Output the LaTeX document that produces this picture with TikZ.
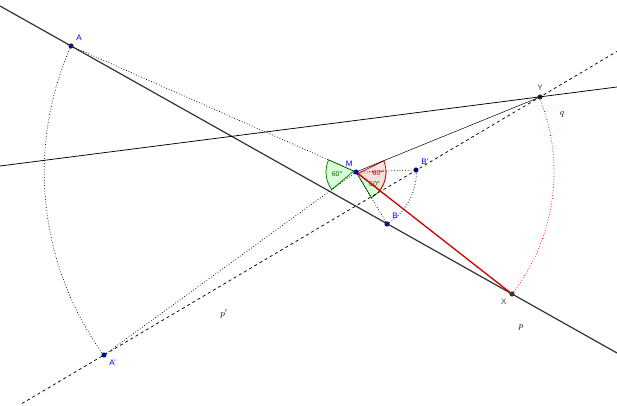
\documentclass[tikz,border=0pt]{standalone}
\usepackage{fontspec}
\setsansfont{Liberation Sans}
\begin{document}
\tikzset{every picture/.style={line width=0.75pt}}
\tikzset{pt/.style={circle,fill=blue,draw=black,line width=0.4pt,inner sep=1.6pt},
  blk/.style={circle,fill=darkgray,draw=black,line width=0.4pt,inner sep=1.6pt},
  lbl/.style={font=\sffamily\footnotesize,text=blue},
  ang/.style={font=\sffamily\scriptsize,inner sep=0pt}}
\begin{tikzpicture}[x=1pt,y=1pt]
\useasboundingbox (0,0) rectangle (617,405);

% points
\node[pt,label={[lbl]above right:A}] (A) at (71,359) {};
\node[pt,label={[lbl,xshift=2pt]above left:M}] (M) at (356,233) {};
\node[pt,label={[lbl]above right:B'}] (Bp) at (416,235) {};
\node[pt,label={[lbl]above right:B}] (B) at (387,181) {};
\node[blk,label={[lbl,text=darkgray]above:Y}] (Y) at (540,308) {};
\node[blk,label={[lbl,text=darkgray]below left:X}] (X) at (512,111) {};
\node[pt,label={[lbl]below right:A'}] (Ap) at (104,50) {};
\coordinate (p1) at (0,399);
\coordinate (p2) at (617,52);
\coordinate (r1) at (22,1.5);
\coordinate (r2) at (617,353.6);
\coordinate (q1) at (0,239);
\coordinate (q2) at (617,318);

% angle sectors
\filldraw[green!50!black,fill=green!15] (M) -- ([shift={(M)}]156.1:30) arc (156.1:216:30) -- cycle;
\filldraw[green!50!black,fill=green!15] (M) -- ([shift={(M)}]-59:30) arc (-59:1.9:30) -- cycle;
\filldraw[red!80!black,fill=red!15,fill opacity=0.8] (M) -- ([shift={(M)}]-38:30) arc (-38:22:30) -- cycle;
\node[ang,text=green!40!black] (a1) at ([shift={(M)}]186:19) {60°};
\node[ang,text=green!40!black] (a2) at ([shift={(M)}]-33:22) {60°};
\node[ang,text=red!80!black] (a3) at ([shift={(M)}]-3:22) {60°};

% lines
\draw[line width=1.2pt,black!80] (p1) -- (p2);
\draw[dashed] (r1) -- (r2);
\draw (q1) -- (q2);
\draw[line width=0.5pt] (M) -- (Y);
\draw[red!80!black,line width=1.3pt] (M) -- (X);
\draw[dotted] (A) -- (M) -- (Ap);
\draw[dotted] (M) -- (Bp);
\draw[dotted] (M) -- (B);

% arcs
\draw[dotted] (A) arc (156.1:216:311.5);
\draw[dotted] (B) arc (-59:1.9:60.5);
\draw[dotted,red] (X) arc (-38:22:198);

\node[font=\small] (p) at (521,78) {$p$};
\node[font=\small] (pp) at (224,91) {$p'$};
\node[font=\small] (q) at (562,291) {$q$};
\end{tikzpicture}
\end{document}
